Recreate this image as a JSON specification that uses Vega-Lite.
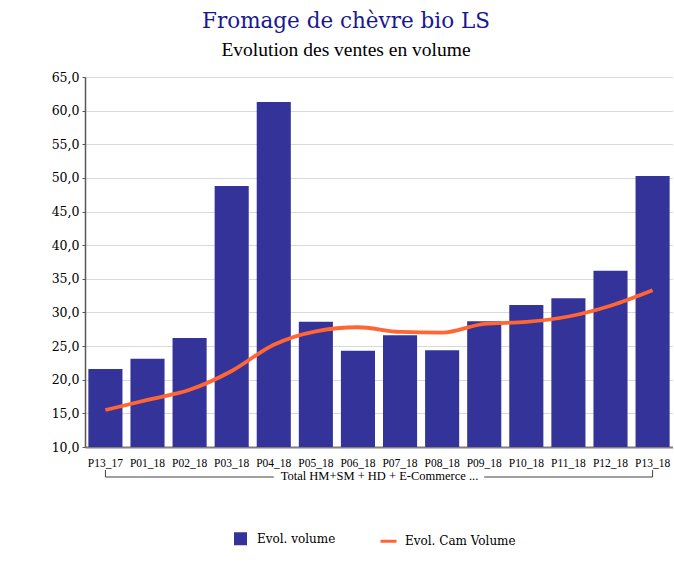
{
  "$schema": "https://vega.github.io/schema/vega-lite/v6.json",
  "width": 588,
  "height": 370,
  "padding": {"left": 51, "top": 11, "right": 0, "bottom": 0},
  "background": "white",
  "title": {
    "text": "Fromage de chèvre bio LS",
    "subtitle": "Evolution des ventes en volume",
    "anchor": "middle",
    "frame": "group",
    "dx": -33,
    "font": "DejaVu Serif",
    "fontSize": 21.5,
    "fontWeight": "normal",
    "color": "#18188F",
    "subtitleFont": "Liberation Serif",
    "subtitleFontSize": 19.5,
    "subtitleColor": "#000000",
    "subtitlePadding": 8,
    "offset": 12
  },
  "config": {
    "view": {"stroke": null},
    "axis": {"labelColor": "#000000", "titleColor": "#000000"}
  },
  "datasets": {
    "ventes": [
      {"periode": "P13_17", "volume": 21.6, "cam": 15.5},
      {"periode": "P01_18", "volume": 23.1, "cam": 17.0},
      {"periode": "P02_18", "volume": 26.2, "cam": 18.5},
      {"periode": "P03_18", "volume": 48.8, "cam": 21.3},
      {"periode": "P04_18", "volume": 61.3, "cam": 25.2},
      {"periode": "P05_18", "volume": 28.6, "cam": 27.2},
      {"periode": "P06_18", "volume": 24.3, "cam": 27.8},
      {"periode": "P07_18", "volume": 26.6, "cam": 27.1},
      {"periode": "P08_18", "volume": 24.4, "cam": 27.0},
      {"periode": "P09_18", "volume": 28.7, "cam": 28.3},
      {"periode": "P10_18", "volume": 31.1, "cam": 28.6},
      {"periode": "P11_18", "volume": 32.1, "cam": 29.4},
      {"periode": "P12_18", "volume": 36.2, "cam": 31.0},
      {"periode": "P13_18", "volume": 50.3, "cam": 33.3}
    ],
    "crochet": [
      {"debut": "P13_17", "fin": "P04_18"},
      {"debut": "P09_18", "fin": "P13_18"}
    ],
    "bords": [
      {"periode": "P13_17"},
      {"periode": "P13_18"}
    ]
  },
  "layer": [
    {
      "data": {"name": "ventes"},
      "mark": {"type": "bar", "color": "#333399", "clip": true},
      "encoding": {
        "x": {
          "field": "periode", "type": "nominal", "sort": null,
          "scale": {"paddingInner": 0.19, "paddingOuter": 0.08},
          "axis": {
            "title": "Total HM+SM + HD + E-Commerce ...",
            "titleFont": "Liberation Serif", "titleFontSize": 12.5, "titleFontWeight": "normal",
            "titlePadding": 1,
            "labelFont": "Liberation Serif", "labelFontSize": 11.5, "labelAngle": 0,
            "labelPadding": 10, "ticks": false,
            "domainColor": "#7f7f7f", "domainWidth": 2
          }
        },
        "y": {
          "field": "volume", "type": "quantitative",
          "scale": {"domain": [10, 65], "nice": false, "zero": false},
          "axis": {
            "title": null,
            "values": [10, 15, 20, 25, 30, 35, 40, 45, 50, 55, 60, 65],
            "labelOverlap": false,
            "labelExpr": "replace(format(datum.value, '.1f'), '.', ',')",
            "labelFont": "DejaVu Serif", "labelFontSize": 12.5,
            "labelPadding": 3, "tickSize": 3, "tickColor": "#595959",
            "domainColor": "#595959", "domainWidth": 1.5,
            "gridColor": "#d9d9d9", "gridWidth": 1.2
          }
        },
        "color": {
          "datum": "Evol. volume",
          "scale": {"domain": ["Evol. volume", "Evol. Cam Volume"], "range": ["#333399", "#FF6633"]},
          "legend": {
            "title": null,
            "orient": "none",
            "direction": "horizontal",
            "legendX": 146,
            "legendY": 452,
            "labelFont": "DejaVu Serif", "labelFontSize": 12, "labelColor": "#000000",
            "columnPadding": 38,
            "labelOffset": 7,
            "encode": {
              "symbols": {
                "update": {
                  "shape": {"signal": "datum.value === 'Evol. volume' ? 'square' : 'stroke'"},
                  "size": {"signal": "datum.value === 'Evol. volume' ? 100 : 256"},
                  "fill": {"signal": "datum.value === 'Evol. volume' ? '#333399' : 'transparent'"},
                  "stroke": {"signal": "datum.value === 'Evol. volume' ? 'transparent' : '#FF6633'"},
                  "strokeWidth": {"value": 3},
                  "opacity": {"value": 1}
                }
              }
            }
          }
        }
      }
    },
    {
      "data": {"name": "ventes"},
      "mark": {"type": "line", "color": "#FF6633", "strokeWidth": 3.8, "interpolate": "monotone"},
      "encoding": {
        "x": {"field": "periode", "type": "nominal", "sort": null, "axis": {"title": "Total HM+SM + HD + E-Commerce ..."}},
        "y": {
          "field": "cam", "type": "quantitative",
          "axis": {
            "title": null,
            "values": [10, 15, 20, 25, 30, 35, 40, 45, 50, 55, 60, 65],
            "labelOverlap": false,
            "labelExpr": "replace(format(datum.value, '.1f'), '.', ',')",
            "labelFont": "DejaVu Serif", "labelFontSize": 12.5,
            "labelPadding": 3, "tickSize": 3, "tickColor": "#595959",
            "domainColor": "#595959", "domainWidth": 1.5,
            "gridColor": "#d9d9d9", "gridWidth": 1.2
          }
        },
        "color": {"datum": "Evol. Cam Volume"}
      }
    },
    {
      "data": {"name": "crochet"},
      "mark": {"type": "rule", "color": "#404040", "strokeWidth": 1},
      "encoding": {
        "x": {"field": "debut", "type": "nominal", "sort": null, "axis": {"title": "Total HM+SM + HD + E-Commerce ..."}},
        "x2": {"field": "fin"},
        "y": {
          "datum": 5.54, "type": "quantitative",
          "axis": {
            "title": null,
            "values": [10, 15, 20, 25, 30, 35, 40, 45, 50, 55, 60, 65],
            "labelOverlap": false,
            "labelExpr": "replace(format(datum.value, '.1f'), '.', ',')",
            "labelFont": "DejaVu Serif", "labelFontSize": 12.5,
            "labelPadding": 3, "tickSize": 3, "tickColor": "#595959",
            "domainColor": "#595959", "domainWidth": 1.5,
            "gridColor": "#d9d9d9", "gridWidth": 1.2
          }
        }
      }
    },
    {
      "data": {"name": "bords"},
      "mark": {"type": "rule", "color": "#404040", "strokeWidth": 1},
      "encoding": {
        "x": {"field": "periode", "type": "nominal", "sort": null, "axis": {"title": "Total HM+SM + HD + E-Commerce ..."}},
        "y": {
          "datum": 5.54, "type": "quantitative",
          "axis": {
            "title": null,
            "values": [10, 15, 20, 25, 30, 35, 40, 45, 50, 55, 60, 65],
            "labelOverlap": false,
            "labelExpr": "replace(format(datum.value, '.1f'), '.', ',')",
            "labelFont": "DejaVu Serif", "labelFontSize": 12.5,
            "labelPadding": 3, "tickSize": 3, "tickColor": "#595959",
            "domainColor": "#595959", "domainWidth": 1.5,
            "gridColor": "#d9d9d9", "gridWidth": 1.2
          }
        },
        "y2": {"datum": 6.58}
      }
    }
  ]
}
